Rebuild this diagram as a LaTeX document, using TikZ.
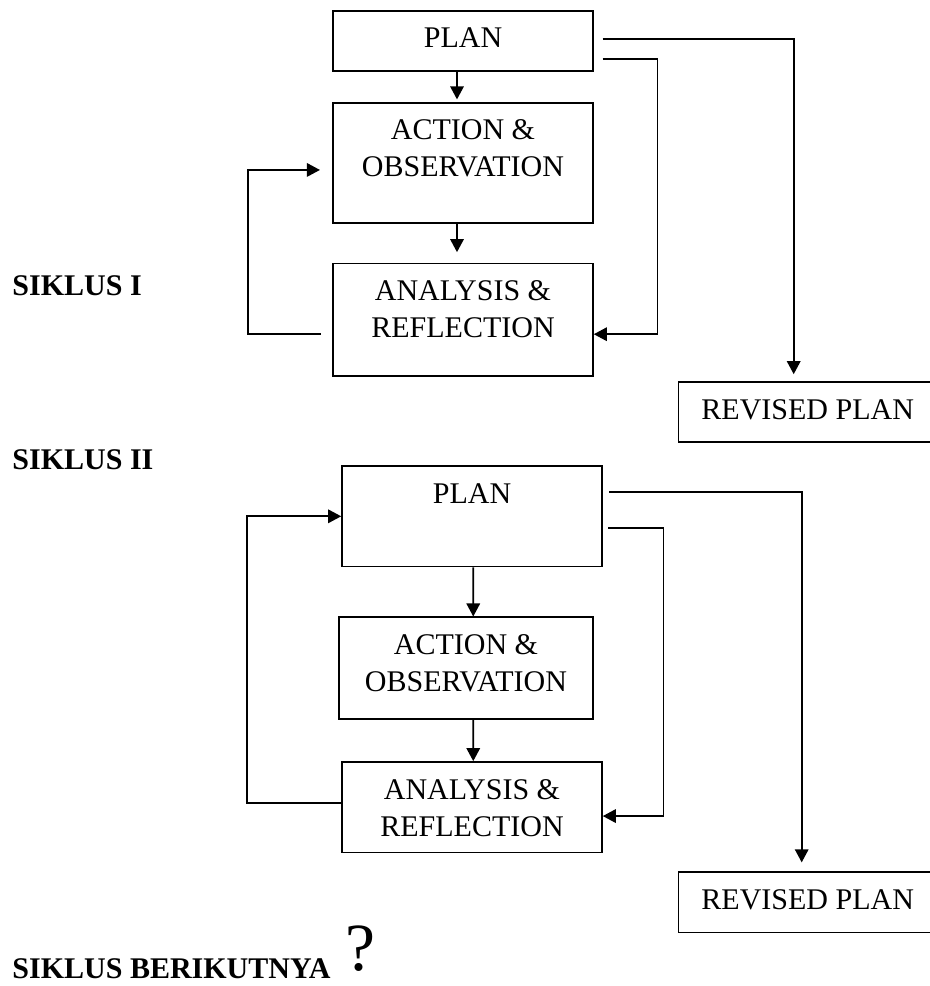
\documentclass[tikz,border=0pt]{standalone}
\usepackage{fontspec}
\setmainfont{Liberation Serif}
\usetikzlibrary{arrows.meta}
\newcommand{\boxstrut}{\rule{0pt}{15pt}}
\tikzset{
  stagebox/.style={draw, line width=0.65pt, inner sep=0pt, minimum width=104pt},
  stagetext/.style={anchor=north, inner sep=0pt, align=center, font={\fontsize{12pt}{14.8pt}\selectfont}},
  arr/.style={line width=0.65pt, -{Triangle[length=5.2pt,width=5.4pt]}},
  siklus/.style={anchor=base west, inner sep=0pt, font={\fontsize{12pt}{14pt}\selectfont\bfseries}}
}
\begin{document}
\begin{tikzpicture}[x=0.4pt,y=-0.4pt]
      \useasboundingbox (0,0) rectangle (929,986);
      \node[stagebox, minimum height=24pt] (plan1) at (463,40.7) {};
      \node[stagetext] (plan1t) at (plan1.north) {\boxstrut PLAN};
      \node[stagebox, minimum height=48pt] (act1) at (463,162.7) {};
      \node[stagetext] (act1t) at (act1.north) {\boxstrut ACTION \&\\OBSERVATION};
      \node[stagebox, minimum height=45pt] (ana1) at (463,319.7) {};
      \node[stagetext] (ana1t) at (ana1.north) {\boxstrut ANALYSIS \&\\REFLECTION};
      \node[stagebox, minimum width=103.5pt, minimum height=24pt] (rev1) at (807.7,412) {};
      \node[stagetext] (rev1t) at (rev1.north) {\boxstrut REVISED PLAN};
      \draw[arr, shorten >=1pt] ([xshift=-2.4pt]plan1.south) -- ([xshift=-2.4pt]act1.north);
      \draw[arr, shorten >=4.2pt] ([xshift=-2.4pt]act1.south) -- ([xshift=-2.4pt]ana1.north);
      \draw[arr] ([xshift=-4.5pt,yshift=-5.8pt]ana1.west) -- ++(-73,0) |- ([xshift=-4.9pt,yshift=-2.9pt]act1.west);
      \draw[arr, shorten >=2.8pt] ([xshift=3.5pt,yshift=0.8pt]plan1.east) -| ([xshift=-5.6pt]rev1.north);
      \draw[arr] ([xshift=3.5pt,yshift=-7.2pt]plan1.east) -- ++(55,0) |- ([yshift=-5.8pt]ana1.east);
      \node[siklus] (sik1) at (12,295.7) {SIKLUS I};

      \node[siklus] (sik2) at (12,469.3) {SIKLUS II};
      \node[stagebox, minimum height=40.3pt] (plan2) at (472,516.3) {};
      \node[stagetext] (plan2t) at (plan2.north) {\boxstrut PLAN};
      \node[stagebox, minimum width=101.4pt, minimum height=40.8pt] (act2) at (466,668.3) {};
      \node[stagetext] (act2t) at (act2.north) {\boxstrut ACTION \&\\OBSERVATION};
      \node[stagebox, minimum height=36.3pt] (ana2) at (472,807.3) {};
      \node[stagetext] (ana2t) at (ana2.north) {\boxstrut ANALYSIS \&\\REFLECTION};
      \node[stagebox, minimum width=103.5pt, minimum height=24.3pt] (rev2) at (807.7,902.3) {};
      \node[stagetext] (rev2t) at (rev2.north) {\boxstrut REVISED PLAN};
      \draw[arr] ([xshift=0.5pt]plan2.south) -- ([xshift=2.9pt]act2.north);
      \draw[arr] ([xshift=2.9pt]act2.south) -- ([xshift=0.5pt]ana2.north);
      \draw[arr] ([yshift=1.6pt]ana2.west) -- ++(-94,0) |- (plan2.west);
      \draw[arr, shorten >=3.5pt] ([xshift=2.5pt,yshift=9.7pt]plan2.east) -| ([xshift=-2.4pt]rev2.north);
      \draw[arr] ([xshift=2.1pt,yshift=-4.8pt]plan2.east) -- ++(55.4,0) |- ([yshift=-3.5pt]ana2.east);

      \node[siklus] (sik3) at (12,978.3) {SIKLUS BERIKUTNYA};
      \node[anchor=base west, inner sep=0pt, text depth=0pt, font={\fontsize{27pt}{29pt}\selectfont}] (next) at (345,970) {?};
\end{tikzpicture}
\end{document}
